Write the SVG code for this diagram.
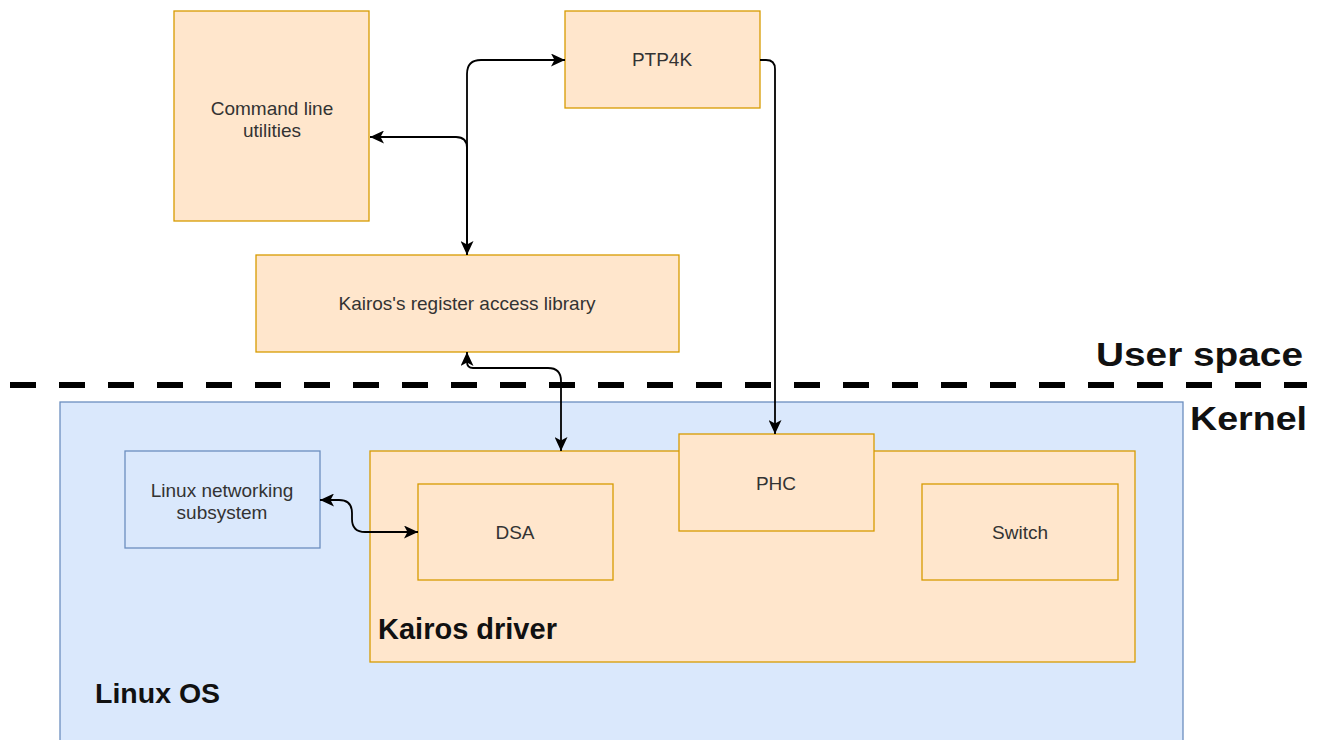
<svg xmlns="http://www.w3.org/2000/svg" width="1322" height="740" viewBox="0 0 1322 740">
<defs>
<style>
.o{fill:#ffe6cc;stroke:#d79b00;stroke-width:1.3}
.b{fill:#dae8fc;stroke:#6c8ebf;stroke-width:1.3}
.t{font-family:"Liberation Sans",Arial,sans-serif;font-size:19px;fill:#333;text-anchor:middle}
.h{font-family:"Liberation Sans",Arial,sans-serif;font-weight:bold;fill:#111}
.c{fill:none;stroke:#000;stroke-width:1.8}
</style>
<marker id="ar" markerUnits="userSpaceOnUse" markerWidth="15" markerHeight="13" viewBox="0 0 15 13" refX="14" refY="6.5" orient="auto-start-reverse">
<path d="M0,0 L14,6.5 L0,13 L3.5,6.5 Z" fill="#000"/>
</marker>
</defs>
<rect width="1322" height="740" fill="#fff"/>
<g id="linux-os">
<rect class="b" x="60" y="402" width="1123" height="360"/>
<text class="h" x="95" y="703" font-size="28.5">Linux OS</text>
</g>
<g id="user-kernel-boundary">
<line x1="10" y1="385" x2="1307" y2="385" stroke="#000" stroke-width="6" stroke-dasharray="26 23"/>
<text class="h" x="1096" y="366" font-size="34" textLength="207" lengthAdjust="spacingAndGlyphs">User space</text>
<text class="h" x="1190" y="430" font-size="34" textLength="117" lengthAdjust="spacingAndGlyphs">Kernel</text>
</g>
<g id="command-line">
<rect class="o" x="174" y="11" width="195" height="210"/>
<text class="t" x="272" y="115">Command line</text>
<text class="t" x="272" y="137">utilities</text>
</g>
<g id="ptp4k">
<rect class="o" x="565" y="11" width="195" height="97"/>
<text class="t" x="662" y="66">PTP4K</text>
</g>
<g id="register-lib">
<rect class="o" x="256" y="255" width="423" height="97"/>
<text class="t" x="467" y="310">Kairos's register access library</text>
</g>
<g id="linux-networking">
<rect class="b" x="125" y="451" width="195" height="97"/>
<text class="t" x="222" y="497">Linux networking</text>
<text class="t" x="222" y="519">subsystem</text>
</g>
<g id="kairos-driver">
<rect class="o" x="370" y="451" width="765" height="211"/>
<text class="h" x="378" y="639" font-size="29">Kairos driver</text>
</g>
<g id="dsa">
<rect class="o" x="418" y="484" width="195" height="96"/>
<text class="t" x="515" y="539">DSA</text>
</g>
<g id="phc">
<rect class="o" x="679" y="434" width="195" height="97"/>
<text class="t" x="776" y="490">PHC</text>
</g>
<g id="switch">
<rect class="o" x="922" y="484" width="196" height="96"/>
<text class="t" x="1020" y="539">Switch</text>
</g>
<g id="connectors">
<path class="c" d="M565 60 L481 60 Q467 60 467 74 L467 255" marker-start="url(#ar)" marker-end="url(#ar)"/>
<path class="c" d="M370 137 L456 137 Q467 137 467 148 L467 255" marker-start="url(#ar)"/>
<path class="c" d="M467 352 L467 362 Q467 368 473 368 L548 368 Q561 368 561 381 L561 451" marker-start="url(#ar)" marker-end="url(#ar)"/>
<path class="c" d="M760 60 L766 60 Q775 60 775 69 L775 434" marker-end="url(#ar)"/>
<path class="c" d="M320 500 L339 500 Q352 500 352 513 L352 519 Q352 532 365 532 L418 532" marker-start="url(#ar)" marker-end="url(#ar)"/>
</g>
</svg>
